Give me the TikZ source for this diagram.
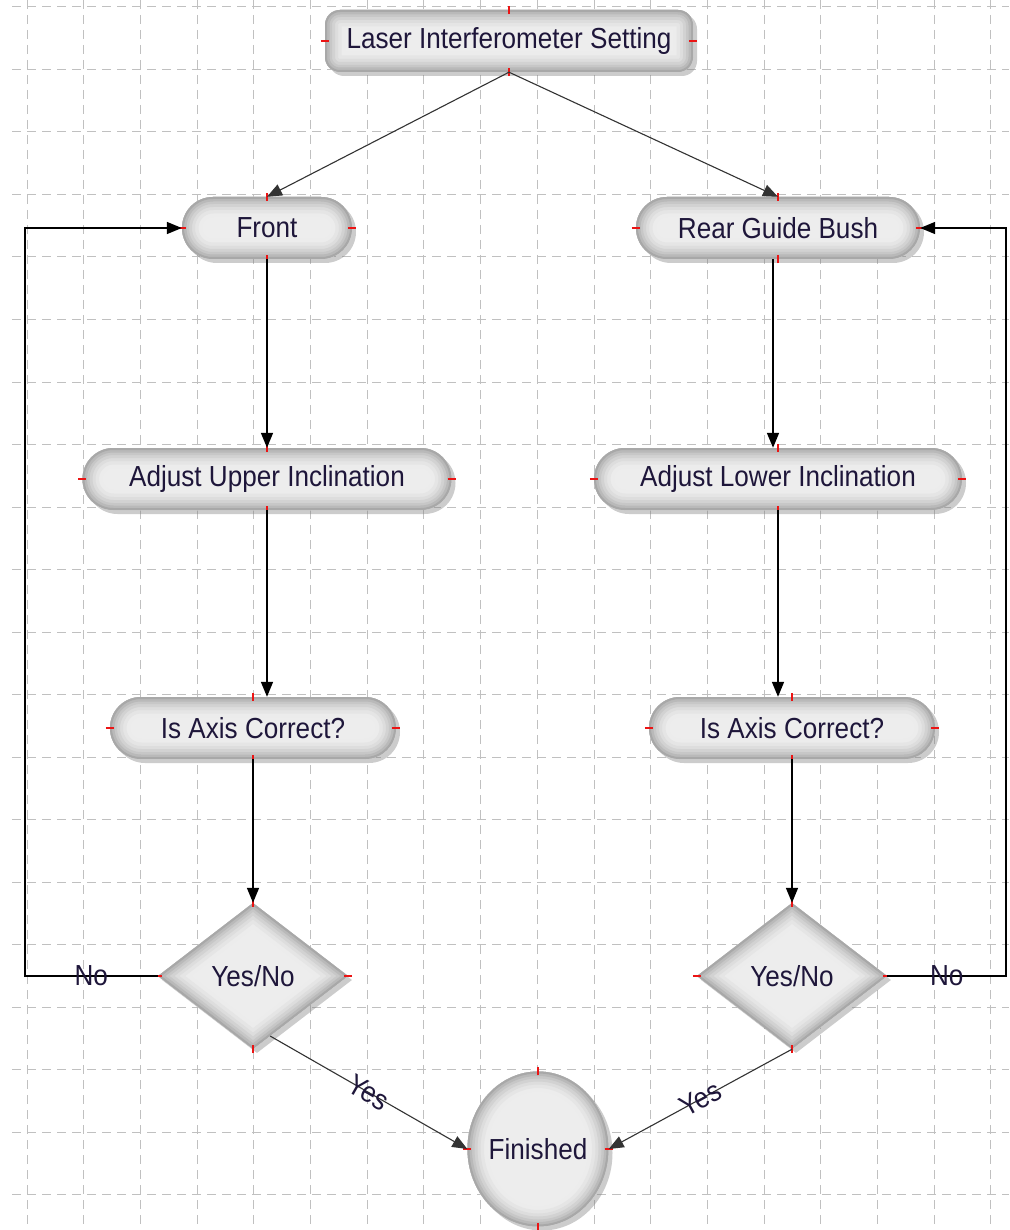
\documentclass[tikz,border=0pt]{standalone}
\usepackage{fontspec}
\setmainfont{Liberation Sans}[FakeStretch=0.9]
\usepackage{xcolor}
\usepackage{tikz}
\usetikzlibrary{shapes.geometric, arrows.meta, calc, shadows}
\definecolor{inktext}{RGB}{30, 22, 58}
\definecolor{gridgray}{RGB}{192, 192, 192}
\definecolor{markred}{RGB}{235, 20, 20}

\newcommand{\innerglow}[2][]{%
    \foreach \w/\c in {40/15,33/20,26/27,20/35,14/44,9/55,4/68}
        \draw[line width=\w pt, draw=gray!\c, #1] #2;%
}

\begin{document}
\begin{tikzpicture}[
        x=1pt, y=-1pt,
        >={Triangle[length=15pt, width=12pt]},
        every node/.style={text=inktext, font=\fontsize{29}{34}\selectfont},
        gridline/.style={draw=gridgray, line width=1pt, dash pattern=on 9pt off 6pt},
        basebox/.style={
            draw=none, fill=gray!14, inner sep=0pt,
            drop shadow={opacity=0.4, shadow xshift=4pt, shadow yshift=-4pt},
        },
        pill/.style={
            basebox, rectangle, rounded corners=#1, minimum height=62pt,
            path picture={\innerglow[rounded corners=#1]{
                (path picture bounding box.south west) rectangle
                (path picture bounding box.north east)}},
        },
        pill/.default=31pt,
        decision/.style={
            basebox, diamond, aspect=1.3,
            minimum width=190pt, minimum height=146pt,
            path picture={\innerglow{
                (path picture bounding box.north) -- (path picture bounding box.east)
                -- (path picture bounding box.south) -- (path picture bounding box.west) -- cycle}},
        },
        oval/.style={
            basebox, ellipse, minimum width=141pt, minimum height=155pt,
            path picture={\innerglow{
                (path picture bounding box.center) ellipse [x radius=70.5pt, y radius=77.5pt]}},
        },
        link/.style={->, line width=1.6pt, black},
        slant/.style={->, line width=1.1pt, black!80},
        redmark/.style={draw=markred, line width=1.6pt},
    ]
    \useasboundingbox (0,0) rectangle (1009,1230);
    \fill[white] (0,0) rectangle (1009,1230);
    \foreach \k in {0,...,17}
        \draw[gridline] ({27+56.7*\k},0) -- ({27+56.7*\k},1230);
    \foreach \k in {0,...,19}
        \draw[gridline] (12,{7+62.5*\k}) -- (1009,{7+62.5*\k});

    \node[pill=15pt, minimum width=368pt] (A) at (509,41) {Laser Interferometer Setting};
    \node[pill, minimum width=170pt] (B) at (267,228) {Front};
    \node[pill, minimum width=284pt] (C) at (778,228) {Rear Guide Bush};
    \node[pill, minimum width=369pt] (D) at (267,479) {Adjust Upper Inclination};
    \node[pill, minimum width=368pt] (E) at (778,479) {Adjust Lower Inclination};
    \node[pill, minimum width=286pt] (F) at (253,728) {Is Axis Correct?};
    \node[pill, minimum width=286pt] (G) at (792,728) {Is Axis Correct?};
    \node[decision] (H) at (253,976) {Yes/No};
    \node[decision] (I) at (792,976) {Yes/No};
    \node[oval] (J) at (538,1149) {Finished};

    \foreach \n in {A,B,C,D,E,F,G,H,I,J} {
        \draw[redmark] ([yshift=-4pt]\n.north) -- ([yshift=4pt]\n.north);
        \draw[redmark] ([yshift=-4pt]\n.south) -- ([yshift=4pt]\n.south);
        \draw[redmark] ([xshift=-4pt]\n.west) -- ([xshift=4pt]\n.west);
        \draw[redmark] ([xshift=-4pt]\n.east) -- ([xshift=4pt]\n.east);
    }

    \draw[slant] (A.south) -- (B.north);
    \draw[slant] (A.south) -- (C.north);
    \draw[link] (B.south) -- (D.north);
    \draw[link] ([xshift=-5pt]C.south) -- ([xshift=-5pt]E.north);
    \draw[link] (D.south) -- (D.south |- F.north);
    \draw[link] (E.south) -- (E.south |- G.north);
    \draw[link] (F.south) -- (H.north);
    \draw[link] (G.south) -- (I.north);
    \draw[link] (H.west) -- node {No} ++(-133,0) |- (B.west);
    \draw[link] (I.east) -- node {No} ++(119,0) |- (C.east);
    \draw[slant] ($(H.south)!.18!(H.east)$) -- node[sloped] {Yes} (J.west);
    \draw[slant] (I.south) -- node[sloped] {Yes} (J.east);
\end{tikzpicture}
\end{document}
